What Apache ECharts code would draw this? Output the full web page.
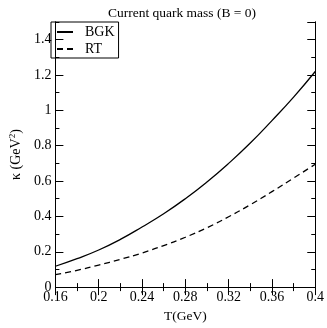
<!DOCTYPE html>
<html>
<head>
<meta charset="utf-8">
<script src="https://cdn.jsdelivr.net/npm/echarts@6/dist/echarts.min.js"></script>
<style>
  html, body { margin: 0; padding: 0; background: #fff; }
  #chart { width: 327px; height: 328px; }
</style>
</head>
<body>
<div id="chart"></div>
<script>
// temperature (GeV)
const temps = [0.16, 0.18, 0.2, 0.22, 0.24, 0.26, 0.28, 0.3, 0.32, 0.34, 0.36, 0.38, 0.4];
// kappa (GeV^2)
const bgk = [0.118, 0.161, 0.21, 0.27, 0.34, 0.415, 0.50, 0.595, 0.70, 0.815, 0.942, 1.075, 1.22];
const rt = [0.07, 0.095, 0.125, 0.157, 0.193, 0.235, 0.282, 0.336, 0.398, 0.466, 0.54, 0.617, 0.695];

const font = 'Liberation Serif';
const toPairs = (xs, ys) => xs.map((x, i) => [x, ys[i]]);

const tickFmt = (v) => String(Math.round(v * 100) / 100);

const xBase = {
	type: 'value', min: 0.16, max: 0.4, interval: 0.04,
	axisLine: { show: true, lineStyle: { color: '#000', width: 1 } },
	axisTick: { inside: true, length: 8, lineStyle: { color: '#000' } },
	minorTick: { show: true, splitNumber: 2, length: 4, lineStyle: { color: '#000' } },
	splitLine: { show: false },
};
const yBase = {
	type: 'value', min: 0, max: 1.5,
	axisLine: { show: true, lineStyle: { color: '#000', width: 1 } },
	splitLine: { show: false },
};

const chart = echarts.init(document.getElementById('chart'));
chart.setOption({
	animation: false,
	backgroundColor: '#fff',
	title: {
		text: 'Current quark mass (B = 0)',
		left: 177, top: 1, textAlign: 'center',
		textStyle: { fontFamily: font, fontSize: 13.5, fontWeight: 'normal', color: '#000' },
	},
	legend: {
		left: 51, top: 22, orient: 'vertical',
		itemWidth: 16, itemHeight: 10, itemGap: 3,
		padding: [3, 4, 2, 5],
		borderColor: '#000', borderWidth: 1, borderRadius: 0,
		itemStyle: { opacity: 0 },
		textStyle: { fontFamily: font, fontSize: 14, color: '#000', padding: [0, 0, 0, 7] },
		data: ['BGK', 'RT'],
	},
	grid: { left: 42, right: 10, top: 22, bottom: 31 },
	xAxis: [
		Object.assign({}, xBase, {
			position: 'bottom',
			name: 'T(GeV)', nameLocation: 'middle', nameGap: 14,
			nameTextStyle: { fontFamily: font, fontSize: 13.5, color: '#000' },
			axisLabel: { fontFamily: font, fontSize: 14, color: '#000', margin: 3, formatter: tickFmt },
		}),
		Object.assign({}, xBase, { position: 'top', axisLabel: { show: false } }),
	],
	yAxis: [
		Object.assign({}, yBase, {
			position: 'left', interval: 0.2,
			name: '{k|κ (GeV}{s|2}{k|)}', nameLocation: 'middle', nameGap: 30,
			nameTextStyle: {
				rich: {
					k: { fontFamily: font, fontSize: 14, color: '#000' },
					s: { fontFamily: font, fontSize: 9, color: '#000', verticalAlign: 'top', padding: [0, 0, 7, 0] },
				},
			},
			axisTick: { inside: true, length: 8, lineStyle: { color: '#000' } },
			axisLabel: {
				fontFamily: font, fontSize: 14, color: '#000', margin: 4, showMaxLabel: false,
				formatter: (v) => (v > 1.45 ? '' : tickFmt(v)),
			},
		}),
		Object.assign({}, yBase, {
			position: 'left', interval: 0.1,
			axisTick: { inside: true, length: 4, lineStyle: { color: '#000' } },
			axisLabel: { show: false },
		}),
		Object.assign({}, yBase, {
			position: 'right', interval: 0.2,
			axisTick: { inside: true, length: 8, lineStyle: { color: '#000' } },
			axisLabel: { show: false },
		}),
		Object.assign({}, yBase, {
			position: 'right', interval: 0.1,
			axisTick: { inside: true, length: 4, lineStyle: { color: '#000' } },
			axisLabel: { show: false },
		}),
	],
	series: [
		{
			name: 'BGK', type: 'line', smooth: true, symbol: 'none',
			xAxisIndex: 0, yAxisIndex: 0,
			lineStyle: { color: '#000', width: 1.3 },
			itemStyle: { color: '#000' },
			data: toPairs(temps, bgk),
		},
		{
			name: 'RT', type: 'line', smooth: true, symbol: 'none',
			xAxisIndex: 0, yAxisIndex: 0,
			lineStyle: { color: '#000', width: 1.3, type: [6, 4] },
			itemStyle: { color: '#000' },
			data: toPairs(temps, rt),
		},
	],
});
</script>
</body>
</html>
